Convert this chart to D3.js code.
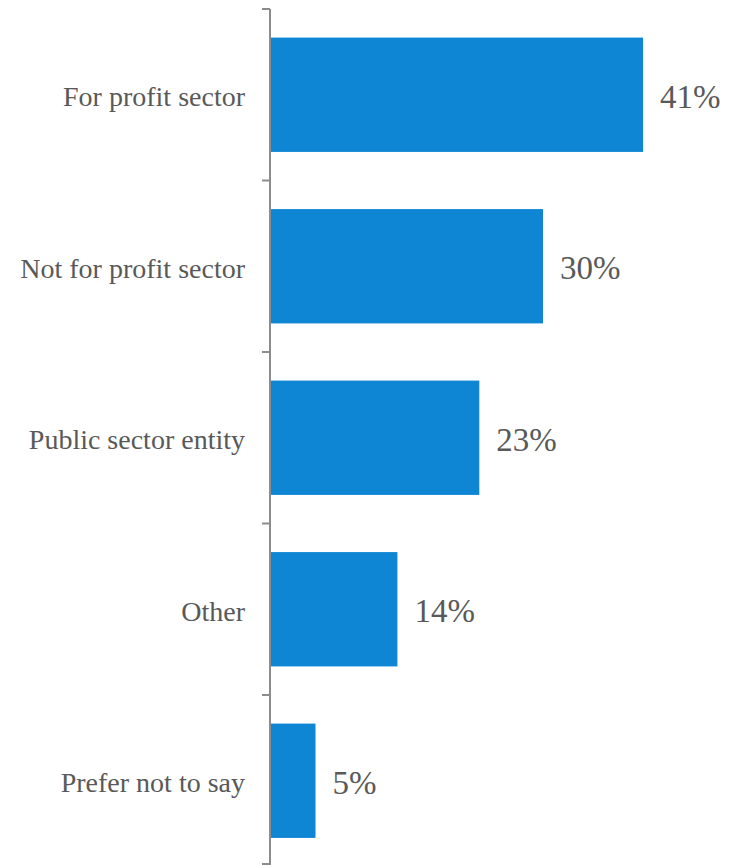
<!DOCTYPE html>
<html>
<head>
<meta charset="utf-8">
<script src="https://cdn.jsdelivr.net/npm/d3@7"></script>
<style>
  html, body { margin: 0; padding: 0; background: #fff; }
  svg { display: block; }
</style>
</head>
<body>
<svg id="chart" width="730" height="865"></svg>
<script>
// Sector of employment, share of respondents
const categories = ["For profit sector", "Not for profit sector", "Public sector entity", "Other", "Prefer not to say"];
const shares = [41, 30, 23, 14, 5];
const valueLabels = ["41%", "30%", "23%", "14%", "5%"];

const svg = d3.select("#chart");
const axisX = 270;

const y = d3.scaleBand()
  .domain(categories)
  .range([9, 866.5])
  .paddingInner(1 / 3)
  .paddingOuter(1 / 6);

const x = d3.scaleLinear()
  .domain([0, 45])
  .range([axisX, axisX + 45 * 9.1]);

// Bars
svg.append("g")
  .selectAll("rect")
  .data(categories)
  .join("rect")
  .attr("x", x(0))
  .attr("y", d => y(d))
  .attr("width", (d, i) => x(shares[i]) - x(0))
  .attr("height", y.bandwidth())
  .attr("fill", "#0E86D4");

// Category axis with ticks at band boundaries
const axisG = svg.append("g").attr("stroke", "#8c8c8c").attr("stroke-width", 2);
axisG.append("line")
  .attr("x1", axisX).attr("x2", axisX)
  .attr("y1", y.range()[0]).attr("y2", y.range()[1]);
const boundaries = categories.map(d => y(d) - y.step() * y.paddingInner() / 2)
  .concat([864]);
axisG.selectAll("line.tick")
  .data(boundaries)
  .join("line")
  .attr("class", "tick")
  .attr("x1", axisX - 8).attr("x2", axisX)
  .attr("y1", d => d).attr("y2", d => d);

// Category labels
svg.append("g")
  .selectAll("text")
  .data(categories)
  .join("text")
  .attr("x", axisX - 25)
  .attr("y", d => y(d) + y.bandwidth() / 2)
  .attr("dy", "0.41em")
  .attr("text-anchor", "end")
  .attr("font-family", "'Liberation Serif', serif")
  .attr("font-size", 28)
  .attr("fill", "#595959")
  .text(d => d);

// Value labels
svg.append("g")
  .selectAll("text")
  .data(categories)
  .join("text")
  .attr("x", (d, i) => x(shares[i]) + 17)
  .attr("y", d => y(d) + y.bandwidth() / 2)
  .attr("dy", "0.39em")
  .attr("font-family", "'Liberation Serif', serif")
  .attr("font-size", 33)
  .attr("fill", "#595959")
  .text((d, i) => valueLabels[i]);
</script>
</body>
</html>
